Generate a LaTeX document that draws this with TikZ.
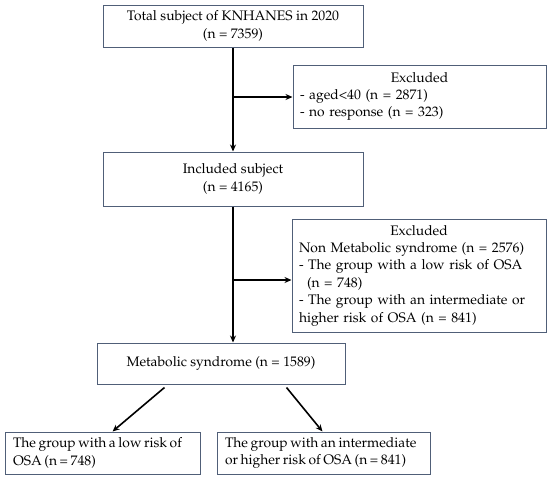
\documentclass[tikz,border=0pt]{standalone}
\usepackage[T1]{fontenc}
\usepackage{mathpazo}
\usetikzlibrary{arrows.meta,calc}
\definecolor{boxline}{RGB}{80,95,120}
\newcommand\tightsp{\spaceskip=2.6pt plus 1pt minus 0.5pt\relax}
\tikzset{
  box/.style={draw=boxline, line width=1pt, inner sep=0pt, font=\fontsize{13.8}{17.4}\selectfont},
  cbox/.style={box, align=center},
  lbox/.style={box, align=left, inner xsep=7pt},
  arr/.style={line width=1.6pt, -{Stealth[length=7pt,width=6pt]}},
  ln/.style={line width=1.6pt}
}
\begin{document}
\begin{tikzpicture}[x=1pt,y=1pt]
\useasboundingbox (0,0) rectangle (550,-480);
\node[cbox, minimum width=260, minimum height=42] (tot) at (233,-26) {Total subject of KNHANES in 2020\\(n = 7359)};
\node[lbox, text width=239, minimum width=253, minimum height=63] (ex1) at (419.5,-96.5)
  {\makebox[239pt]{Excluded}\\- aged<40 (n = 2871)\\- no response (n = 323)};
\node[cbox, minimum width=260, minimum height=54] (inc) at (233,-179) {Included subject\\(n = 4165)};
\node[lbox, text width=240, minimum width=254, minimum height=113] (ex2) at (419,-275.5)
  {\makebox[240pt]{Excluded}\\\mbox{Non Metabolic syndrome (n = 2576)}\\\mbox{- The group with a low risk of OSA}\\\hspace*{8pt}(n = 748)\\\mbox{- The group with an intermediate or}\\\mbox{higher risk of OSA (n = 841)}};
\node[cbox, minimum width=248, minimum height=41] (met) at (221,-363.5) {Metabolic syndrome (n = 1589)};
\node[lbox, inner xsep=8pt, text width=179, minimum width=195, minimum height=42] (bl) at (102.5,-453)
  {\tightsp The group with a low risk of\\OSA (n = 748)};
\node[lbox, inner xsep=8pt, text width=197, minimum width=213, minimum height=42] (br) at (323.5,-453)
  {\tightsp The group with an intermediate\\or higher risk of OSA (n = 841)};
\coordinate (j1) at (233,-97);
\coordinate (j2) at (233,-280);
\draw[arr] (tot.south) -- (inc.north);
\draw[arr] (j1) -- (j1 -| ex1.west);
\draw[arr] (inc.south) -- (inc.south |- met.north);
\draw[arr] (j2) -- (j2 -| ex2.west);
\coordinate (s1) at ($(met.south west)+(68,-3)$);
\coordinate (s2) at ($(met.south west)+(190,-3)$);
\draw[arr] (s1) -- ($(bl.north west)+(108,0)$);
\draw[arr] (s2) -- ($(br.north west)+(106,0)$);
\end{tikzpicture}
\end{document}
